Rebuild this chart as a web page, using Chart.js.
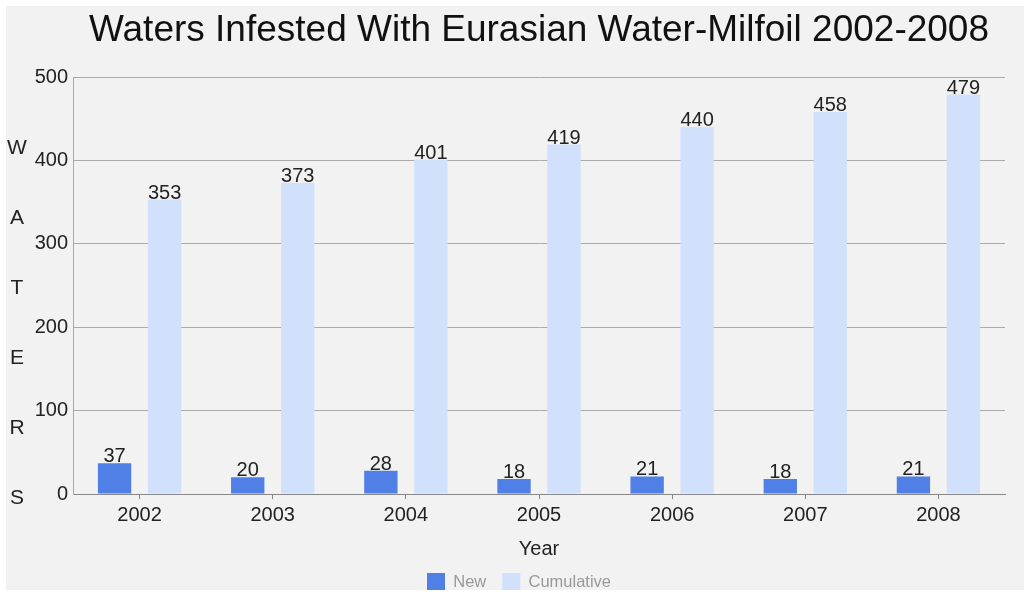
<!DOCTYPE html>
<html>
<head>
<meta charset="utf-8">
<script src="https://cdn.jsdelivr.net/npm/chart.js@4"></script>
<style>
html,body{margin:0;padding:0;background:#fff;}
#wrap{position:absolute;left:0;top:0;width:1024px;height:596px;}
</style>
</head>
<body>
<div id="wrap"><canvas id="c" width="1024" height="596"></canvas></div>
<script>
const years = ['2002','2003','2004','2005','2006','2007','2008'];
const newWaters = [37, 20, 28, 18, 21, 18, 21];
const cumulativeWaters = [353, 373, 401, 419, 440, 458, 479];
const yTicks = [0, 100, 200, 300, 400, 500];
const titleText = 'Waters Infested With Eurasian Water-Milfoil 2002-2008';
const yTitleLetters = ['W','A','T','E','R','S'];
const xTitle = 'Year';

const FONT = '"Liberation Sans", Arial, Helvetica, sans-serif';

const bgPlugin = {
  id: 'bg',
  beforeDraw(chart) {
    const ctx = chart.ctx;
    ctx.save();
    ctx.fillStyle = '#f2f2f2';
    ctx.fillRect(6, 6, 1018, 584);
    ctx.restore();
  }
};

const textPlugin = {
  id: 'texts',
  afterDraw(chart) {
    const ctx = chart.ctx;
    const ca = chart.chartArea;
    ctx.save();
    // white frame at bottom edge
    ctx.fillStyle = '#ffffff';
    ctx.fillRect(0, 590, 1024, 6);
    // title
    ctx.fillStyle = '#111';
    ctx.font = '37px ' + FONT;
    ctx.textAlign = 'center';
    ctx.textBaseline = 'alphabetic';
    ctx.fillText(titleText, (ca.left + ca.right) / 2, 41);
    // vertical y title letters
    ctx.font = '21px ' + FONT;
    ctx.fillStyle = '#222';
    yTitleLetters.forEach((ch, i) => {
      ctx.fillText(ch, 17, 154 + i * 70);
    });
    // value labels
    ctx.font = '20px ' + FONT;
    chart.data.datasets.forEach((ds, di) => {
      const meta = chart.getDatasetMeta(di);
      meta.data.forEach((bar, i) => {
        ctx.fillText(String(ds.data[i]), bar.x, bar.y - 1);
      });
    });
    ctx.restore();
  }
};

new Chart(document.getElementById('c'), {
  type: 'bar',
  data: {
    labels: years,
    datasets: [
      { label: 'New', data: newWaters, backgroundColor: '#5080e6', borderWidth: 0,
        categoryPercentage: 0.751, barPercentage: 0.667 },
      { label: 'Cumulative', data: cumulativeWaters, backgroundColor: '#d1e1fb', borderWidth: 0,
        categoryPercentage: 0.751, barPercentage: 0.667 }
    ]
  },
  options: {
    responsive: false,
    animation: false,
    devicePixelRatio: 1,
    layout: { padding: { top: 77, left: 33, right: 19, bottom: -5 } },
    plugins: {
      title: { display: false },
      tooltip: { enabled: false },
      legend: {
        display: true,
        position: 'bottom',
        labels: {
          boxWidth: 18, boxHeight: 18, padding: 16,
          color: '#999',
          font: { family: FONT, size: 16.5 }
        }
      }
    },
    scales: {
      x: {
        grid: { display: true, drawOnChartArea: false, offset: false, tickLength: 5, color: '#888' },
        border: { color: '#888', width: 1 },
        ticks: { color: '#222', font: { family: FONT, size: 20 }, padding: 4 },
        title: { display: true, text: xTitle, color: '#222', font: { family: FONT, size: 20 }, padding: { top: 4, bottom: -4 } },
        afterFit(s) { s.height = 63; }
      },
      y: {
        min: 0, max: 500,
        afterBuildTicks(s) { s.ticks = yTicks.map(v => ({ value: v })); },
        grid: { color: '#aaa', drawTicks: false },
        border: { color: '#aaa', width: 1 },
        ticks: { color: '#222', font: { family: FONT, size: 20 }, padding: 5 },
        afterFit(s) { s.width = 40; }
      }
    }
  },
  plugins: [bgPlugin, textPlugin]
});
</script>
</body>
</html>
